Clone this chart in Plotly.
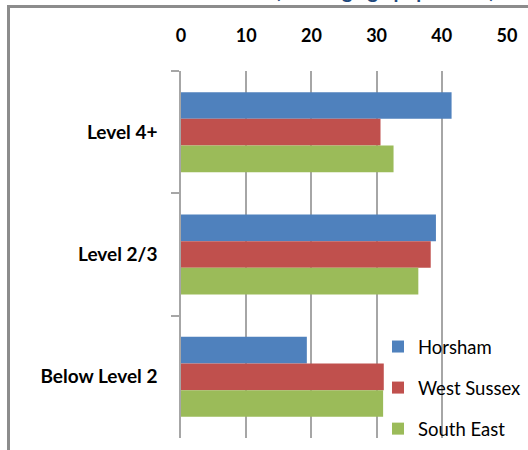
import plotly.graph_objects as go

# Qualification levels (working age population), percent
categories = ["Level 4+", "Level 2/3", "Below Level 2"]
horsham = [41.5, 39.1, 19.3]
west_sussex = [30.6, 38.3, 31.1]
south_east = [32.6, 36.4, 31.0]
x_ticks = [0, 10, 20, 30, 40, 50]

series = [
    ("Horsham", horsham, "#4F81BD"),
    ("West Sussex", west_sussex, "#C0504D"),
    ("South East", south_east, "#9BBB59"),
]

W, H = 528, 450
L, R, T, B = 181, 21, 71, 12
pw, ph = W - L - R, H - T - B

fig = go.Figure()
for i, (name, vals, col) in enumerate(series):
    fig.add_trace(go.Bar(
        y=categories, x=vals, name=name, orientation="h",
        marker=dict(color=col, line=dict(width=0)),
        legendgroup=f"g{i}",
    ))

def px_x(p):
    return (p - L) / pw

def px_y(p):
    return (H - B - p) / ph

label_font = dict(family="Lato", size=19, color="#000000", weight="bold")

fig.update_layout(
    width=W, height=H,
    margin=dict(l=L, r=R, t=T, b=B, autoexpand=False),
    paper_bgcolor="white", plot_bgcolor="white",
    barmode="group", bargap=0.346, bargroupgap=0,
    showlegend=True,
    legend=dict(
        x=px_x(378), y=px_y(328), xanchor="left", yanchor="top",
        bgcolor="rgba(0,0,0,0)", tracegroupgap=14,
        font=dict(family="Lato", size=18.5, color="#000000"),
    ),
    xaxis=dict(
        side="top", range=[0, 50], tickvals=x_ticks,
        showgrid=True, gridcolor="#A6A6A6", gridwidth=1.5,
        zeroline=False, showline=False, ticks="",
        ticklabelstandoff=24,
        tickfont=dict(family="Lato", size=18, color="#000000", weight="bold"),
    ),
    yaxis=dict(
        categoryorder="array", categoryarray=categories,
        autorange="reversed",
        showgrid=False, zeroline=False,
        showline=True, linecolor="#A6A6A6", linewidth=1.5,
        ticks="outside", tickson="boundaries", ticklen=8,
        tickcolor="#A6A6A6", tickwidth=1.5,
        ticklabelstandoff=18,
        tickfont=label_font,
    ),
    shapes=[
        dict(type="rect", xref="paper", yref="paper",
             x0=px_x(8.5), x1=px_x(560), y0=px_y(480), y1=px_y(6.5),
             line=dict(color="#8C8C8C", width=3), fillcolor="rgba(0,0,0,0)",
             layer="below"),
    ],
    annotations=[
        dict(text="(working age population)", xref="paper", yref="paper",
             x=px_x(497), y=px_y(4), xanchor="right", yanchor="bottom",
             showarrow=False,
             font=dict(family="Lato", size=20, color="#1F497D", weight="bold")),
    ],
)

fig.write_html("out.html")
